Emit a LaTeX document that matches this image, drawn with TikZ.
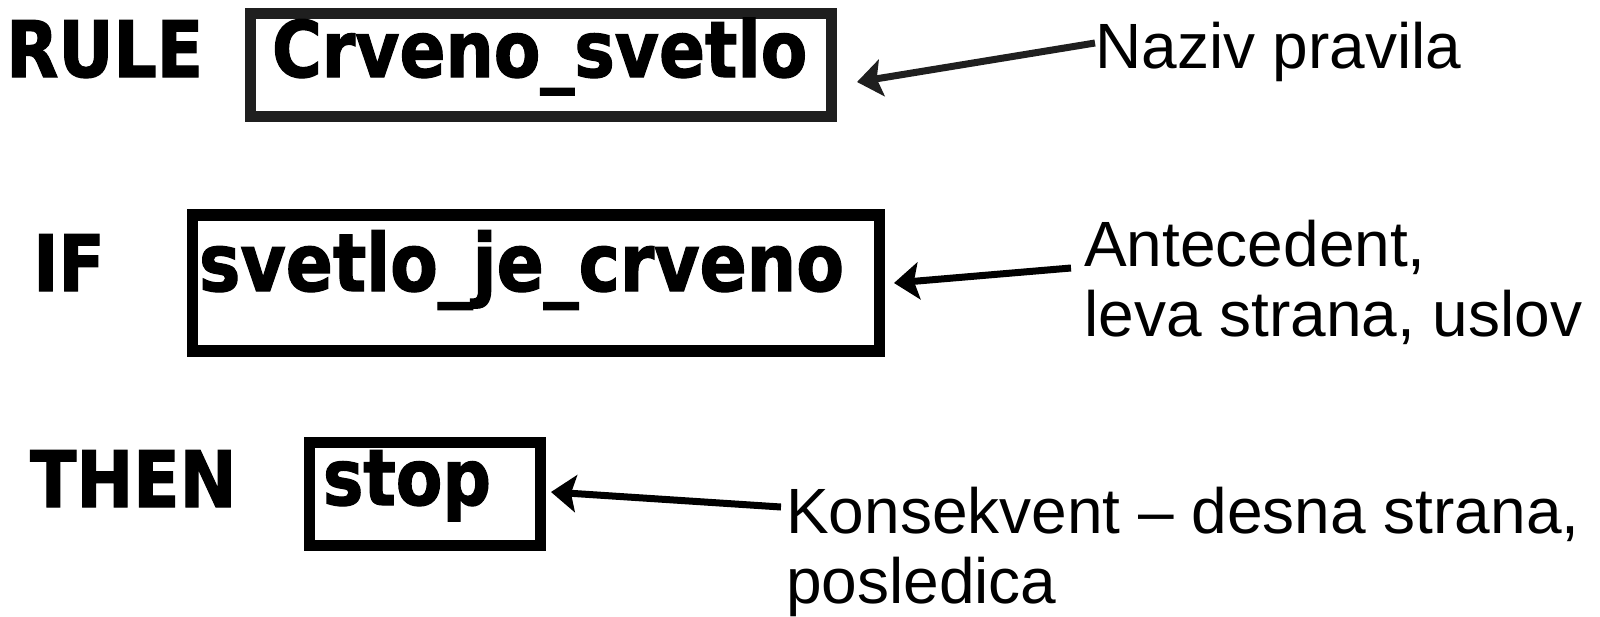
\documentclass[tikz,border=0pt]{standalone}
\usepackage{fontspec}
\setmainfont{Liberation Sans}
\newfontfamily\kwfont{DejaVu Sans}[FakeStretch=0.87, BoldFeatures={FakeBold=1.5}]
\usepackage{tikz}
\usetikzlibrary{arrows.meta, positioning}
\definecolor{ruleink}{HTML}{1F1F1F}
\tikzset{
  keyword/.style={font=\kwfont\bfseries\fontsize{78}{80}\selectfont, anchor=base west, inner sep=0pt},
  slot/.style={draw, line width=11.5pt, outer sep=0pt, anchor=north west, align=left,
    inner ysep=6pt, font=\kwfont\bfseries\fontsize{78}{80}\selectfont},
  note/.style={font=\fontsize{64}{70}\selectfont, anchor=base west, align=left, inner sep=0pt},
  pointer/.style={line width=7pt, -{Stealth[length=25pt, width=37pt, inset=5pt]}},
}

\begin{document}
\begin{tikzpicture}[x=1pt, y=-1pt]
    \useasboundingbox (0,0) rectangle (1600,616);
    % keywords
    \node[keyword] (kwrule) at (6,77) {RULE};
    \node[keyword] (kwif) at (33,291) {IF};
    \node[keyword] (kwthen) at (30,507) {THEN};
    % framed parts of the rule
    \node[slot, draw=ruleink, inner xsep=21.5pt, text width=538pt, text height=57.5pt, text depth=33.5pt]
      (rulename) at (250.5,13.5) {Crveno\_svetlo};
    \node[slot, inner xsep=6.5pt, text width=674pt, text height=70pt, text depth=54pt,
      font=\kwfont\bfseries\fontsize{80}{82}\selectfont]
      (antecedent) at (192.5,215) {svetlo\_je\_crveno};
    \node[slot, inner xsep=13.5pt, text width=204pt, text height=56.5pt, text depth=34.5pt]
      (consequent) at (309.5,442.5) {stop};
    % explanations (base is the last line)
    \node[note] (namenote) at (1095,68) {Naziv pravila};
    \node[note] (antenote) at (1084,336) {Antecedent,\\leva strana, uslov};
    \node[note] (consnote) at (786,603) {Konsekvent – desna strana,\\posledica};
    \draw[pointer, ruleink] ([yshift=25pt]namenote.base west) -- ([xshift=25.5pt, yshift=-17pt]rulename.east);
    \draw[pointer] ([xshift=-13pt, yshift=68pt]antenote.base west) -- ([xshift=14.5pt]antecedent.east);
    \draw[pointer] ([xshift=-5pt, yshift=96pt]consnote.base west) -- ([xshift=10.5pt, yshift=2pt]consequent.east);
\end{tikzpicture}
\end{document}
